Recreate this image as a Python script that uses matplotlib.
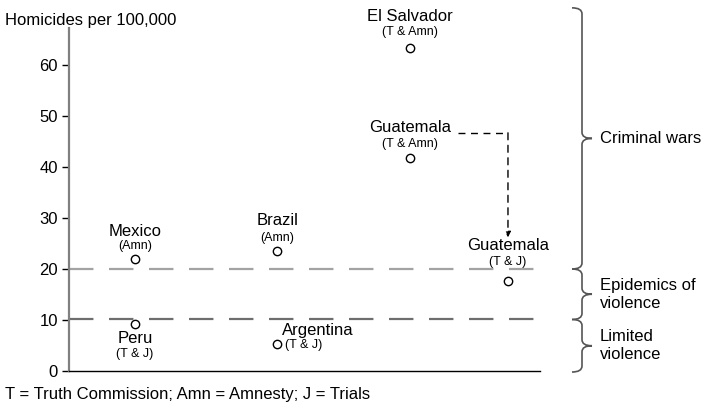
import matplotlib.pyplot as plt
import matplotlib.transforms as mtransforms
from matplotlib.path import Path
from matplotlib.patches import PathPatch

plt.rcParams['font.family'] = ['Liberation Sans', 'DejaVu Sans']

# data
countries = ["Mexico", "Peru", "Brazil", "Argentina", "El Salvador", "Guatemala", "Guatemala"]
policies = ["(Amn)", "(T & J)", "(Amn)", "(T & J)", "(T & Amn)", "(T & Amn)", "(T & J)"]
homicides = [22.0, 9.3, 23.6, 5.2, 63.4, 41.8, 17.7]
column = [0, 0, 1, 1, 2, 2, 3]
thresholds = [20, 10.1]
bands = ["Criminal wars", "Epidemics of\nviolence", "Limited\nviolence"]
band_edges = [71.2, 20, 10.1, -0.2]

# layout only
col_x = [14.0, 44.2, 72.4, 93.2]
# (name dx, name dy, sub dx, sub dy) in pixels, dy up positive
offsets = [(0, 27, 0, 13), (0, -15, 0, -30), (0, 30, 0, 13), (41, 14, 26, -1),
           (0, 31, 0, 16), (0, 30, 0, 14), (0, 35, 0, 19)]

fig = plt.figure(figsize=(7.06, 4.09), dpi=100)
ax = fig.add_axes([69/706, 38/409, 471/706, 343/409])
ax.set_xlim(0, 100)
ax.set_ylim(0, 67.25)

px = 72/100  # points per pixel

# threshold lines
ax.axhline(thresholds[0], color='#a3a3a3', lw=1.6, linestyle=(0, (11, 7)), zorder=1)
ax.axhline(thresholds[1], color='#6e6e6e', lw=1.6, linestyle=(0, (11, 7)), zorder=1)

xs = [col_x[c] for c in column]
ax.plot(xs, homicides, 'o', ms=6, mfc='white', mec='black', mew=1, zorder=3, clip_on=False)

for x, y, name, sub, (ndx, ndy, sdx, sdy) in zip(xs, homicides, countries, policies, offsets):
    ax.annotate(name, (x, y), xytext=(ndx*px, ndy*px), textcoords='offset points',
                ha='center', va='center', fontsize=12)
    ax.annotate(sub, (x, y), xytext=(sdx*px, sdy*px), textcoords='offset points',
                ha='center', va='center', fontsize=9)

# dashed arrow from Guatemala (T & Amn) to Guatemala (T & J)
ax.plot([82.6, col_x[3]], [46.7, 46.7], color='black', lw=1, linestyle=(0, (5, 4)))
ax.annotate('', xy=(col_x[3], 26.2), xytext=(col_x[3], 46.7),
            arrowprops=dict(arrowstyle='-|>', color='black', lw=1, linestyle=(0, (5, 4)),
                            mutation_scale=8, shrinkA=0, shrinkB=0))

# axes styling
for s in ['top', 'right']:
    ax.spines[s].set_visible(False)
ax.spines['left'].set_color('#808080')
ax.spines['left'].set_linewidth(1.6)
ax.spines['bottom'].set_color('black')
ax.spines['bottom'].set_linewidth(1)
ax.set_xticks([])
ax.set_yticks(range(0, 70, 10))
ax.tick_params(axis='y', length=5, width=1, color='black', labelsize=12, pad=3)

fig.text(5/706, 1 - 20/409, "Homicides per 100,000", fontsize=12, ha='left', va='center')
fig.text(5/706, 1 - 395/409, "T = Truth Commission; Amn = Amnesty; J = Trials",
         fontsize=12, ha='left', va='center')

# braces on the right
trans = mtransforms.blended_transform_factory(fig.transFigure, ax.transData)
bx = 582/706
w = 10/706
ppu = 343/67.25  # pixels per data unit
c = 6/ppu
for top, bot, label in zip(band_edges[:-1], band_edges[1:], bands):
    mid = (top + bot) / 2
    verts = [(bx - w, top), (bx, top), (bx, top - c),
             (bx, mid + c), (bx, mid), (bx + w, mid),
             (bx, mid), (bx, mid - c),
             (bx, bot + c), (bx, bot), (bx - w, bot)]
    codes = [Path.MOVETO, Path.CURVE3, Path.CURVE3,
             Path.LINETO, Path.CURVE3, Path.CURVE3,
             Path.CURVE3, Path.CURVE3,
             Path.LINETO, Path.CURVE3, Path.CURVE3]
    ax.add_patch(PathPatch(Path(verts, codes), transform=trans, fill=False,
                           edgecolor='#555555', lw=1.2, clip_on=False))
    ax.text(600/706, mid, label, transform=trans, fontsize=12, ha='left', va='center',
            linespacing=1.25)

fig.savefig("out.png", dpi=100)
